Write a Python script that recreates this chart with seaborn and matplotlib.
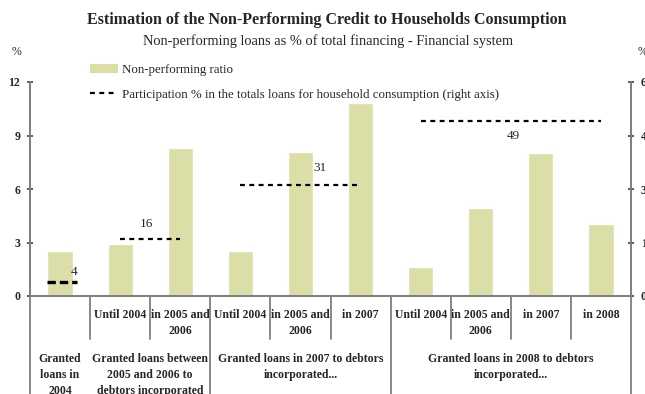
import numpy as np
import pandas as pd
import matplotlib
matplotlib.use("Agg")
import matplotlib.pyplot as plt
import matplotlib.transforms as mtransforms
from matplotlib.patches import Patch
from matplotlib.lines import Line2D
import seaborn as sns

# ---- data -----------------------------------------------------------------
sub_labels = ["", "Until 2004", "in 2005 and\n2006",
              "Until 2004", "in 2005 and\n2006", "in 2007",
              "Until 2004", "in 2005 and\n2006", "in 2007", "in 2008"]
group_of_bar = [0, 1, 1, 2, 2, 2, 3, 3, 3, 3]
group_labels = ["Granted\nloans in\n2004",
                "Granted loans between\n2005 and 2006 to\ndebtors incorporated",
                "Granted loans in 2007 to debtors\nincorporated...",
                "Granted loans in 2008 to debtors\nincorporated..."]
npl_ratio = [2.5, 2.9, 8.3, 2.55, 8.1, 10.8, 1.65, 4.95, 8.0, 4.05]
participation = [4, 16, 31, 49]

bar_color = "#DBDEA7"
axis_gray = "#7F7F7F"

sns.set_theme(style="white")
plt.rcParams["font.family"] = ["Liberation Serif", "DejaVu Serif"]

df = pd.DataFrame({
    "slot": [f"{g}:{s}" for g, s in zip(group_of_bar, sub_labels)],
    "ratio": npl_ratio,
})

fig = plt.figure(figsize=(6.45, 3.94), dpi=100)
W, H = 645, 394
x0, x1, y_base, y_top = 30, 631, 296, 82
ax = fig.add_axes([x0 / W, 1 - y_base / H, (x1 - x0) / W, (y_base - y_top) / H])

sns.barplot(data=df, x="slot", y="ratio", color=bar_color, width=0.42,
            saturation=1, ax=ax, zorder=2)
ax.set_xlim(-0.5, len(npl_ratio) - 0.5)
ax.set_ylim(0, 12)
ax.set_yticks([0, 3, 6, 9, 12])
ax.set_xticks([])
ax.set_xlabel("")
ax.set_ylabel("")

ax2 = ax.twinx()
ax2.set_ylim(0, 60)
ax2.set_yticks([0, 15, 30, 45, 60])

for a in (ax, ax2):
    a.spines["top"].set_visible(False)
    for s in ("left", "right", "bottom"):
        a.spines[s].set_color(axis_gray)
        a.spines[s].set_linewidth(1.3)
    a.grid(False)
ax.tick_params(axis="y", direction="inout", length=5, width=1.2, color="#404040",
               pad=4.5, labelsize=8.5, left=True)
ax2.tick_params(axis="y", direction="inout", length=5, width=1.2, color="#404040",
                pad=4.5, labelsize=8.5, right=True)
for lab in ax.get_yticklabels() + ax2.get_yticklabels():
    lab.set_fontweight("bold")

# ---- participation lines (right axis) --------------------------------------
group_idx = [[i for i, g in enumerate(group_of_bar) if g == k] for k in range(len(group_labels))]
label_pos = [0.23, 1.43, 4.32, 7.55]
label_dy = [4, 9, 11, -9]
for k, (idx, val) in enumerate(zip(group_idx, participation)):
    if len(idx) == 1:
        xs = [idx[0] - 0.21, idx[0] + 0.29]
        sns.lineplot(x=xs, y=[val, val], ax=ax2, color="black", lw=2.4,
                     linestyle=(0, (2.5, 1.2)), zorder=3)
    else:
        xs = [idx[0], idx[-1]]
        sns.lineplot(x=xs, y=[val, val], ax=ax2, color="black", lw=1.6,
                     linestyle=(0, (2.2, 2.0)), zorder=3)
    ax2.annotate(str(val), (label_pos[k], val), xytext=(0, label_dy[k] * 0.72),
                 textcoords="offset points", ha="center",
                 va="bottom" if label_dy[k] > 0 else "top", fontsize=9.5)
ax2.set_xlim(-0.5, len(npl_ratio) - 0.5)

# ---- legend -----------------------------------------------------------------
handles = [Patch(facecolor=bar_color, edgecolor="none"),
           Line2D([0], [0], color="black", lw=1.6, linestyle=(0, (2.2, 2.0)))]
names = ["Non-performing ratio",
         "Participation % in the totals loans for household consumption (right axis)"]
fig.legend(handles, names, loc="upper left", bbox_to_anchor=(90 / W, 1 - 64 / H),
           frameon=False, fontsize=9.3, handlelength=2.2, handleheight=0.75,
           handletextpad=0.25, labelspacing=0.95, borderpad=0, borderaxespad=0)

# ---- titles -----------------------------------------------------------------
fig.text(0.507, 1 - 20 / H, "Estimation of the Non-Performing Credit to Households Consumption",
         ha="center", va="center", fontsize=11.5, fontweight="bold")
fig.text(0.509, 1 - 41 / H, "Non-performing loans as % of total financing - Financial system",
         ha="center", va="center", fontsize=10.4)
fig.text(16 / W, 1 - 52 / H, "%", ha="center", va="center", fontsize=8.5)
fig.text(642 / W, 1 - 52 / H, "%", ha="center", va="center", fontsize=8.5)

# ---- two-tier category table below the axis ---------------------------------
trans = mtransforms.blended_transform_factory(ax.transData, ax.transAxes)
short_end = (y_base - 339) / (y_base - y_top)
group_edges = {0, 3, 6, 10}
for b in range(len(npl_ratio) + 1):
    xb = b - 0.5
    yb = -0.6 if b in group_edges else short_end
    ax.plot([xb, xb], [0, yb], transform=trans, color=axis_gray, lw=1.3,
            clip_on=False, zorder=5)

tier1_top = (y_base - 309) / (y_base - y_top)
for i, s in enumerate(sub_labels):
    if s:
        ax.text(i, tier1_top, s, transform=trans, ha="center", va="top",
                fontsize=8.5, fontweight="bold", linespacing=1.42)

tier2_top = (y_base - 353) / (y_base - y_top)
for k, g in enumerate(group_labels):
    idx = group_idx[k]
    xc = (idx[0] + idx[-1]) / 2
    ax.text(xc, tier2_top, g, transform=trans, ha="center", va="top",
            fontsize=8.5, fontweight="bold", linespacing=1.45)

fig.savefig("out.png", dpi=100)
